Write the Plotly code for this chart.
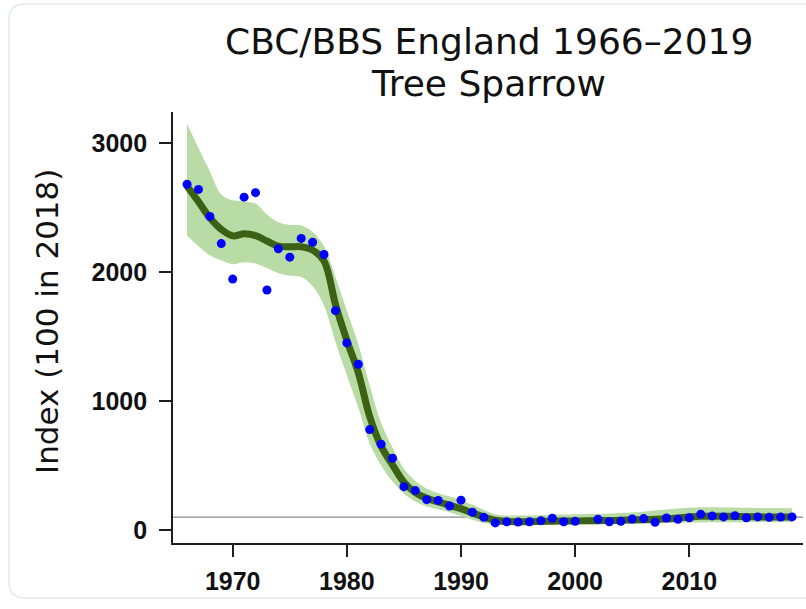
import plotly.graph_objects as go

# ---------------- data ----------------
years = list(range(1966, 2020))

index_points = [2680, 2640, 2430, 2220, 1945, 2580, 2615, 1860, 2180, 2115,
                2260, 2230, 2135, 1700, 1450, 1285, 778, 665, 556, 336,
                305, 235, 229, 186, 231, 137, 98, 55, 63, 61,
                64, 72, 91, 64, 67, None, 83, 64, 67, 85,
                88, 60, 93, 83, 95, 122, 109, 101, 111, 95,
                101, 98, 100, 101]

smoothed = [2665, 2545, 2420, 2330, 2280, 2296, 2282, 2240, 2200, 2195,
            2195, 2170, 2085, 1750, 1470, 1220, 880, 650, 505, 370,
            290, 245, 218, 192, 165, 132, 101, 75, 66, 64,
            64, 66, 68, 69, 70, 71, 72, 73, 75, 78,
            80, 83, 87, 93, 100, 106, 107, 106, 105, 103,
            102, 101, 100, 100]

upper = [3150, 2960, 2780, 2600, 2555, 2545, 2530, 2445, 2385, 2365,
         2360, 2310, 2200, 1960, 1700, 1440, 1120, 830, 640, 475,
         380, 320, 285, 260, 230, 195, 155, 122, 112, 112,
         113, 115, 118, 120, 122, 124, 126, 128, 132, 136,
         142, 150, 158, 166, 172, 176, 176, 175, 174, 172,
         171, 170, 170, 168]

lower = [2280, 2200, 2130, 2090, 2060, 2075, 2065, 2030, 1990, 1970,
         1960, 1890, 1740, 1460, 1200, 950, 670, 500, 375, 280,
         220, 182, 160, 138, 110, 80, 55, 42, 38, 38,
         39, 40, 41, 42, 43, 44, 45, 46, 47, 48,
         50, 52, 54, 55, 57, 58, 59, 60, 60, 60,
         61, 61, 62, 62]

x_ticks = [1970, 1980, 1990, 2000, 2010]
y_ticks = [0, 1000, 2000, 3000]
reference_value = 100

title_line1 = "CBC/BBS England 1966\u20132019"
title_line2 = "Tree Sparrow"
y_title = "Index (100 in 2018)"

# ---------------- layout geometry ----------------
W, H = 806, 609
ML, MR, MT, MB = 173, 3, 112, 66
PW, PH = W - ML - MR, H - MT - MB


def px(x):
    return (x - ML) / PW


def py(y):
    return (H - MB - y) / PH


band_col = "#b9dba6"
line_col = "#3d6114"
pt_col = "#0000ff"
axis_col = "#1e1e1e"

fig = go.Figure()

fig.add_trace(go.Scatter(x=years, y=lower, mode="lines", line=dict(width=0, color=band_col, shape="spline"),
                         hoverinfo="skip", showlegend=False))
fig.add_trace(go.Scatter(x=years, y=upper, mode="lines", line=dict(width=0, color=band_col, shape="spline"),
                         fill="tonexty", fillcolor=band_col, hoverinfo="skip", showlegend=False))
fig.add_trace(go.Scatter(x=years, y=smoothed, mode="lines", line=dict(width=7, color=line_col, shape="spline"),
                         showlegend=False))
fig.add_trace(go.Scatter(x=years, y=index_points, mode="markers",
                         marker=dict(size=9, color=pt_col, line=dict(width=0)),
                         showlegend=False))

# reference line at 100
fig.add_shape(type="line", xref="paper", x0=0, x1=1, yref="y", y0=reference_value, y1=reference_value,
              line=dict(color="#8a8a8a", width=1.2), layer="below")

# card border (rounded rectangle)
L, T, R, B, r = 9, 4, 830, 598, 16
rx, ry = r / PW, r / PH
path = (f"M {px(L)+rx},{py(T)} L {px(R)-rx},{py(T)} Q {px(R)},{py(T)} {px(R)},{py(T)-ry} "
        f"L {px(R)},{py(B)+ry} Q {px(R)},{py(B)} {px(R)-rx},{py(B)} "
        f"L {px(L)+rx},{py(B)} Q {px(L)},{py(B)} {px(L)},{py(B)+ry} "
        f"L {px(L)},{py(T)-ry} Q {px(L)},{py(T)} {px(L)+rx},{py(T)} Z")
fig.add_shape(type="path", xref="paper", yref="paper", path=path,
              line=dict(color="#e3e9ee", width=1.5), fillcolor="rgba(0,0,0,0)", layer="below")

title_font = dict(family="DejaVu Sans, Verdana, sans-serif", size=36, color="#111111")
fig.add_annotation(text=title_line1, xref="paper", yref="paper", x=px(488.5), y=py(41),
                   xanchor="center", yanchor="middle", showarrow=False, font=title_font)
fig.add_annotation(text=title_line2, xref="paper", yref="paper", x=px(488), y=py(83),
                   xanchor="center", yanchor="middle", showarrow=False, font=title_font)
fig.add_annotation(text=y_title, xref="paper", yref="paper", x=px(47), y=py(322), textangle=-90,
                   xanchor="center", yanchor="middle", showarrow=False,
                   font=dict(family="DejaVu Sans, Verdana, sans-serif", size=31, color="#111111"))

tick_font = dict(family="Liberation Sans, Arial, sans-serif", size=25, color="#111111", weight=700)

fig.update_xaxes(range=[1964.77, 2019.96], tickvals=x_ticks, showgrid=False, zeroline=False,
                 showline=True, linecolor=axis_col, linewidth=1.6, ticks="outside", ticklen=12,
                 tickwidth=1.6, tickcolor=axis_col, tickfont=tick_font, ticklabelstandoff=3)
fig.update_yaxes(range=[-101, 3240], tickvals=y_ticks, showgrid=False, zeroline=False,
                 showline=True, linecolor=axis_col, linewidth=1.6, ticks="outside", ticklen=12,
                 tickwidth=1.6, tickcolor=axis_col, tickfont=tick_font, ticklabelstandoff=7)

fig.update_layout(width=W, height=H, margin=dict(l=ML, r=MR, t=MT, b=MB, autoexpand=False),
                  paper_bgcolor="white", plot_bgcolor="white", showlegend=False)

fig.write_html("out.html", config={"displayModeBar": False},
               post_script="document.body.style.margin='0';document.body.style.overflow='hidden';")
